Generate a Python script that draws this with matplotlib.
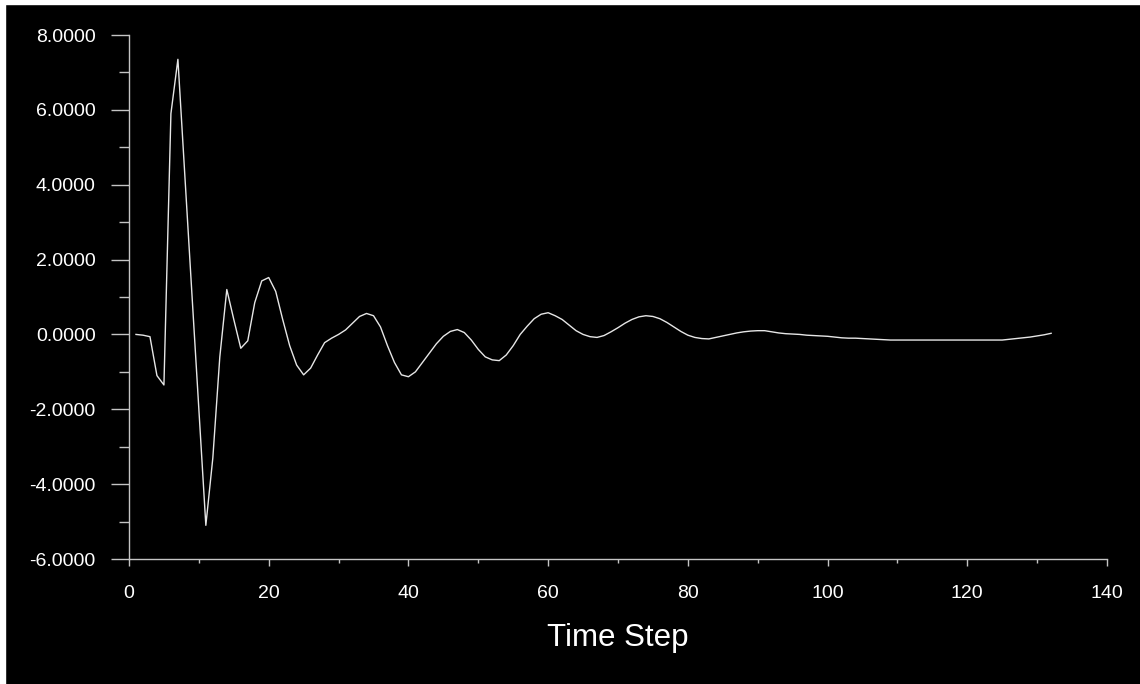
import matplotlib

matplotlib.use("Agg")
import matplotlib.pyplot as plt
from matplotlib.patches import Rectangle
from matplotlib.ticker import FormatStrFormatter, MultipleLocator

plt.rcParams.update({
    "font.family": ["Liberation Sans", "DejaVu Sans"],
    "axes.spines.top": False,
    "axes.spines.right": False,
})

# values, one per time step (1..132)
time_step = list(range(1, 133))
response = [
    0.00, -0.02, -0.06, -1.10, -1.35, 5.90, 7.35, 4.20, 1.10, -2.00,
    -5.10, -3.30, -0.60, 1.20, 0.40, -0.37, -0.17, 0.85, 1.43, 1.52,
    1.15, 0.40, -0.30, -0.82, -1.08, -0.90, -0.55, -0.22, -0.10, 0.00,
    0.12, 0.30, 0.48, 0.56, 0.50, 0.20, -0.30, -0.75, -1.08, -1.13,
    -1.00, -0.75, -0.50, -0.25, -0.05, 0.08, 0.13, 0.05, -0.15, -0.40,
    -0.60, -0.68, -0.70, -0.55, -0.30, 0.00, 0.22, 0.42, 0.54, 0.58,
    0.50, 0.40, 0.25, 0.10, 0.00, -0.06, -0.08, -0.03, 0.07, 0.18,
    0.30, 0.40, 0.47, 0.50, 0.48, 0.42, 0.32, 0.20, 0.08, -0.02,
    -0.08, -0.11, -0.12, -0.08, -0.04, 0.00, 0.04, 0.07, 0.09, 0.10,
    0.10, 0.07, 0.04, 0.02, 0.01, 0.00, -0.02, -0.03, -0.04, -0.05,
    -0.07, -0.09, -0.10, -0.10, -0.11, -0.12, -0.13, -0.14, -0.15, -0.15,
    -0.15, -0.15, -0.15, -0.15, -0.15, -0.15, -0.15, -0.15, -0.15, -0.15,
    -0.15, -0.15, -0.15, -0.15, -0.15, -0.13, -0.11, -0.09, -0.07, -0.04,
    -0.01, 0.03,
]

AXIS_COLOR = "#c4c4c4"
TEXT_COLOR = "#ffffff"

fig = plt.figure(figsize=(11.4, 6.84), dpi=100, facecolor="black")
# thin white strips along the top and left edges of the capture
fig.patches.append(Rectangle((0, 1 - 4 / 684), 1, 4 / 684, transform=fig.transFigure,
                             color="white", zorder=0))
fig.patches.append(Rectangle((0, 0), 5 / 1140, 1, transform=fig.transFigure,
                             color="white", zorder=0))

ax = fig.add_axes([129 / 1140, 1 - 559 / 684, 978 / 1140, 524 / 684])
ax.set_facecolor("black")
ax.plot(time_step, response, color="#e6e6e6", linewidth=1.0, clip_on=False)

ax.set_xlim(0, 140)
ax.set_ylim(-6, 8)
ax.xaxis.set_major_locator(MultipleLocator(20))
ax.xaxis.set_minor_locator(MultipleLocator(10))
ax.yaxis.set_major_locator(MultipleLocator(2))
ax.yaxis.set_minor_locator(MultipleLocator(1))
ax.yaxis.set_major_formatter(FormatStrFormatter("%.4f"))

for side in ("left", "bottom"):
    ax.spines[side].set_color(AXIS_COLOR)
    ax.spines[side].set_linewidth(1.0)

ax.tick_params(axis="y", which="major", length=13, width=1.0, color=AXIS_COLOR,
               labelcolor=TEXT_COLOR, labelsize=14, pad=11)
ax.tick_params(axis="y", which="minor", length=7, width=1.0, color=AXIS_COLOR)
ax.tick_params(axis="x", which="major", length=5, width=1.0, color=AXIS_COLOR,
               labelcolor=TEXT_COLOR, labelsize=14, pad=14)
ax.tick_params(axis="x", which="minor", length=3, width=1.0, color=AXIS_COLOR)

ax.set_xlabel("Time Step", color=TEXT_COLOR, fontsize=22.5, labelpad=15)

fig.savefig("out.png", dpi=100, facecolor=fig.get_facecolor())
plt.close(fig)
